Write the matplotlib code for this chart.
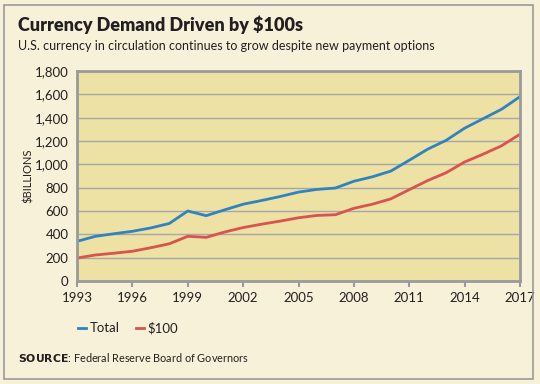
import matplotlib.pyplot as plt
import matplotlib.patches as mpatch
import numpy as np

years = list(range(1993, 2018))
total = [340, 383, 405, 426, 455, 493, 600, 560, 610, 658, 690, 724, 762, 785, 797,
         855, 893, 942, 1035, 1130, 1206, 1310, 1391, 1472, 1580]
hundreds = [197, 223, 238, 255, 285, 319, 383, 374, 420, 458, 487, 513, 542, 562, 568,
            623, 658, 704, 783, 861, 928, 1020, 1087, 1159, 1258]
xticks = list(range(1993, 2018, 3))
yticks = list(range(0, 1801, 200))

plt.rcParams['font.family'] = ['Lato', 'DejaVu Sans']

bg = '#f8f1da'
plot_bg = '#ede1a4'
blue = '#2f83bf'
red = '#d9534f'
dark = '#231f20'

fig = plt.figure(figsize=(5.4, 3.84), dpi=100)
fig.patch.set_facecolor(bg)
# outer frame
fig.patches.append(mpatch.Rectangle((4/540, 1-379/384), 529/540, 374/384, transform=fig.transFigure,
                                    fill=False, edgecolor='#9a9a9a', linewidth=1.2))

ax = fig.add_axes([77/540, 1-281/384, 443/540, 210/384])
ax.set_facecolor(plot_bg)
ax.plot(years, total, color=blue, linewidth=2, label='Total')
ax.plot(years, hundreds, color=red, linewidth=2, label='$100')

ax.set_xlim(1993, 2017)
ax.set_ylim(0, 1800)
ax.set_xticks(xticks)
ax.set_yticks(yticks)
ax.set_yticklabels([f'{v:,}' for v in yticks])
ax.grid(axis='y', color='#a8a8a8', linewidth=1)
ax.set_axisbelow(True)
for s in ax.spines.values():
    s.set_color('#9a9a9a')
    s.set_linewidth(2)
ax.tick_params(axis='x', length=4, width=1.5, color='#9a9a9a', direction='out',
               labelsize=9.5, labelcolor=dark, pad=4)
ax.tick_params(axis='y', length=0, labelsize=9.5, labelcolor=dark, pad=6)
ax.set_ylabel('$BILLIONS', fontsize=8, color=dark, va='center')
ax.yaxis.set_label_coords(-0.11, 0.5)

fig.text(18/540, 1-25/384, 'Currency Demand Driven by $100s', fontsize=13, fontweight='heavy',
         color=dark, va='center', ha='left')
fig.text(18/540, 1-46/384, 'U.S. currency in circulation continues to grow despite new payment options',
         fontsize=9, color=dark, va='center', ha='left')

leg = fig.legend(loc='center left', bbox_to_anchor=(66/540, 1-328/384), ncol=2, frameon=False,
                 fontsize=9.5, handlelength=0.6, handletextpad=0.3, columnspacing=1.2,
                 labelcolor=dark)
fig.text(18/540, 1-357/384, r'$\bf{SOURCE}$: Federal Reserve Board of Governors', fontsize=7.8,
         color=dark, va='center', ha='left')

fig.savefig('out.png', dpi=100, facecolor=bg)
